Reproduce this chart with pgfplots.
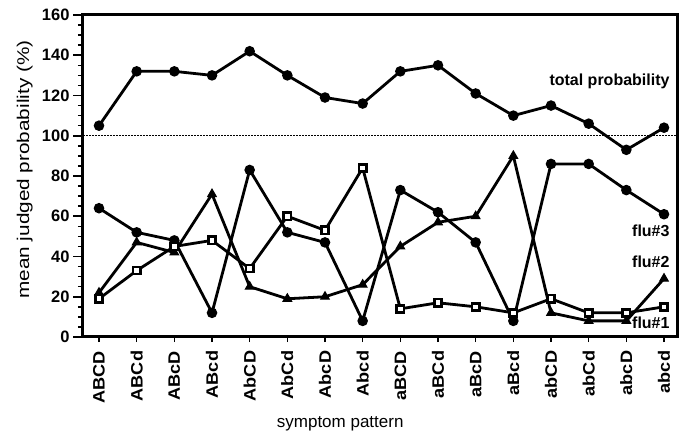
\documentclass[border=0pt]{standalone}
\usepackage{fontspec}
\setmainfont{Liberation Sans}
\usepackage{pgfplots}
\usepackage{pgfplotstable}
\pgfplotsset{compat=1.18}

% symptom pattern index, total, flu#1, flu#2, flu#3
\pgfplotstableread{
idx total fluA fluB fluC
0  105 19 22 64
1  132 33 47 52
2  132 45 42 48
3  130 48 71 12
4  142 34 25 83
5  130 60 19 52
6  119 53 20 47
7  116 84 26  8
8  132 14 45 73
9  135 17 57 62
10 121 15 60 47
11 110 12 90  8
12 115 19 12 86
13 106 12  8 86
14  93 12  8 73
15 104 15 29 61
}\data

\begin{document}
\begin{tikzpicture}
\useasboundingbox (-83pt,-107pt) rectangle (605pt,337pt);
\begin{axis}[
    at={(0,0)}, anchor=south west,
    scale only axis, width=594pt, height=322pt,
    xmin=-0.425, xmax=15.345, ymin=0, ymax=160,
    xtick={0,...,15},
    xticklabels={ABCD,ABCd,ABcD,ABcd,AbCD,AbCd,AbcD,Abcd,aBCD,aBCd,aBcD,aBcd,abCD,abCd,abcD,abcd},
    ytick={0,20,...,160}, minor y tick num=3,
    tick align=outside, tick pos=left,
    major tick length=10pt, minor tick length=5pt,
    x tick style={/pgfplots/major tick length=5pt},
    every tick/.style={black, line width=1.6pt},
    axis line style={line width=3pt},
    /pgf/number format/assume math mode=true,
    ticklabel style={font=\fontsize{16.5}{19}\selectfont\bfseries},
    xticklabel style={rotate=90, anchor=east, xscale=1.1},
    xlabel={symptom pattern},
    xlabel style={at={(axis description cs:0.433,-0.27)}, anchor=center, font=\fontsize{17}{20}\selectfont},
    ylabel={\scalebox{1.22}[1]{mean judged probability (\%)}},
    ylabel style={at={(axis description cs:-0.098,0.52)}, anchor=center, font=\fontsize{17}{20}\selectfont},
    clip=false,
]
\addplot[black, line width=1.4pt, dash pattern=on 1.6pt off 1.4pt, mark=none] coordinates {(-0.425,100) (15.345,100)};
\addplot[black, line width=2.8pt, mark=*, mark size=3.8pt] table[x=idx, y=total] {\data};
\addplot[black, line width=2.8pt, mark=*, mark size=3.8pt] table[x=idx, y=fluC] {\data};
\addplot[black, line width=2.8pt, mark=triangle*, mark size=5pt, mark options={solid, line width=1pt}] table[x=idx, y=fluB] {\data};
\addplot[black, line width=2.8pt, mark=square*, mark size=3.6pt, mark options={fill=white, line width=2.6pt}] table[x=idx, y=fluA] {\data};

\node[anchor=east, font=\fontsize{16}{19}\selectfont\bfseries] at (axis cs:15.24,127) {total probability};
\node[anchor=east, font=\fontsize{16}{19}\selectfont\bfseries] at (axis cs:15.24,53) {flu\#3};
\node[anchor=east, font=\fontsize{16}{19}\selectfont\bfseries] at (axis cs:15.24,37.6) {flu\#2};
\node[anchor=east, font=\fontsize{16}{19}\selectfont\bfseries] at (axis cs:15.24,7) {flu\#1};
\end{axis}
\end{tikzpicture}
\end{document}
